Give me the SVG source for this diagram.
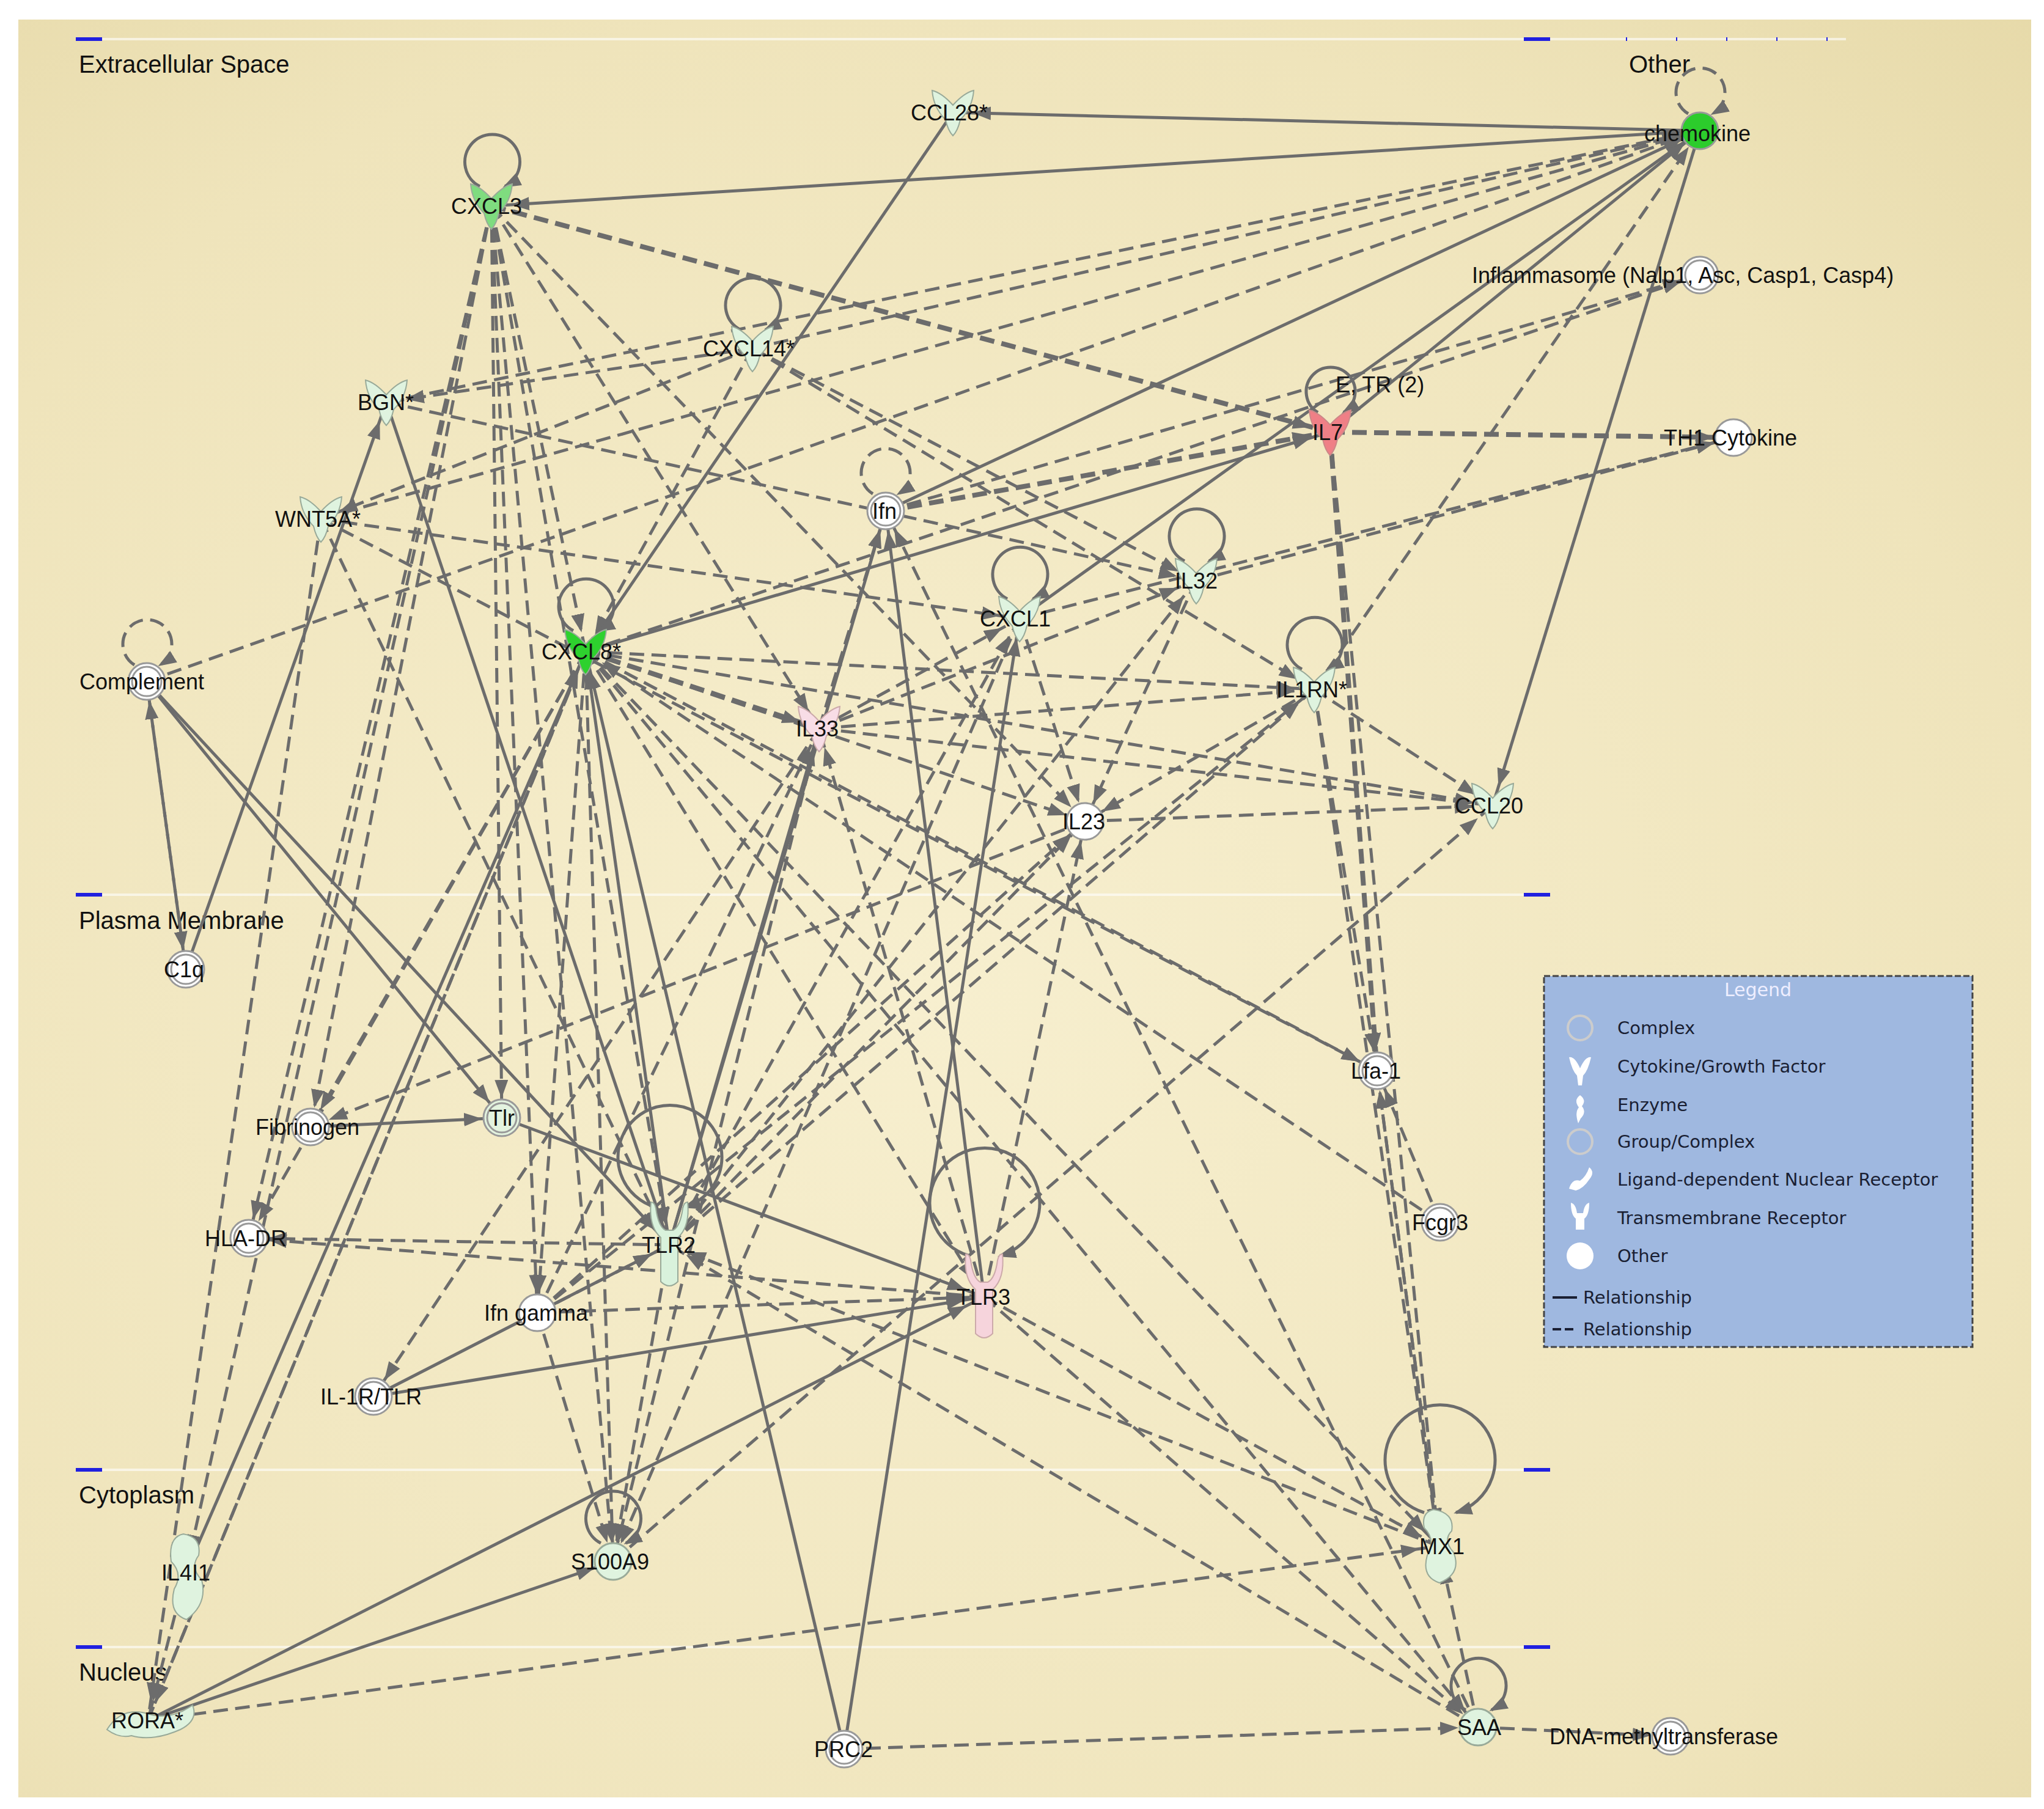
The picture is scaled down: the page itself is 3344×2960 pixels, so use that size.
<svg xmlns="http://www.w3.org/2000/svg" width="3344" height="2960" viewBox="0 0 3344 2960">
<style>
.e{fill:none;stroke:#6c6c6c;stroke-width:5;marker-end:url(#ah)}
.s{fill:none;stroke:#6c6c6c;stroke-width:5;marker-end:url(#ah2)}
.d{stroke-dasharray:24 12}
.t{stroke-width:8}
.l{font-family:"Liberation Sans",Arial,sans-serif;font-size:36px;fill:#111}
.c{font-family:"Liberation Sans",Arial,sans-serif;font-size:40px;fill:#111}
.o{fill:#fff;stroke:#999;stroke-width:3}
.cx{fill:none;stroke:#999;stroke-width:3}
.lg{font-family:"DejaVu Sans",sans-serif;font-size:29px;fill:#1a1f33}
.sep{stroke:#fff;stroke-width:4;opacity:.6}
.bl{stroke:#2020e0;stroke-width:6}
</style>
<defs>
<marker id="ah" markerUnits="userSpaceOnUse" markerWidth="80" markerHeight="30" refX="62" refY="11" orient="auto"><path d="M0,0 L30,11 L0,22z" fill="#6c6c6c"/></marker>
<marker id="ah2" markerUnits="userSpaceOnUse" markerWidth="40" markerHeight="30" refX="26" refY="11" orient="auto"><path d="M0,0 L30,11 L0,22z" fill="#6c6c6c"/></marker>
<radialGradient id="bg" cx="0.45" cy="0.55" r="0.8"><stop offset="0" stop-color="#f7efcf"/><stop offset="0.7" stop-color="#efe4bb"/><stop offset="1" stop-color="#e6d9a8"/></radialGradient>
<path id="cy" d="M-34,-36 Q-18,-32 0,-12 Q18,-32 34,-36 Q32,-8 12,12 Q8,30 0,38 Q-8,30 -12,12 Q-32,-8 -34,-36Z"/>
<path id="tm" d="M-30,-70 Q-24,-70 -22,-60 Q-18,-30 -6,-24 L0,-24 L6,-24 Q18,-30 22,-60 Q24,-70 30,-70 Q34,-30 14,-12 L14,60 Q0,74 -14,60 L-14,-12 Q-34,-30 -30,-70Z"/>
</defs>
<rect width="3344" height="2960" fill="#fff"/>
<rect x="30" y="32" width="3293" height="2909" fill="url(#bg)"/>
<g id="compartments">
<line class="sep" x1="124" y1="64" x2="3020" y2="64"/>
<line class="sep" x1="124" y1="1464" x2="2536" y2="1464"/>
<line class="sep" x1="124" y1="2405" x2="2536" y2="2405"/>
<line class="sep" x1="124" y1="2695" x2="2536" y2="2695"/>
<line class="bl" x1="124" y1="64" x2="167" y2="64"/><line class="bl" x1="2493" y1="64" x2="2536" y2="64"/><line class="bl" x1="2660" y1="64" x2="3020" y2="64" stroke-dasharray="2 80"/>
<line class="bl" x1="124" y1="1464" x2="167" y2="1464"/><line class="bl" x1="2493" y1="1464" x2="2536" y2="1464"/>
<line class="bl" x1="124" y1="2405" x2="167" y2="2405"/><line class="bl" x1="2493" y1="2405" x2="2536" y2="2405"/>
<line class="bl" x1="124" y1="2695" x2="167" y2="2695"/><line class="bl" x1="2493" y1="2695" x2="2536" y2="2695"/>
<text class="c" x="129" y="119">Extracellular Space</text>
<text class="c" x="2665" y="119">Other</text>
<text class="c" x="129" y="1520">Plasma Membrane</text>
<text class="c" x="129" y="2460">Cytoplasm</text>
<text class="c" x="129" y="2750">Nucleus</text>
</g>
<g id="connectors">
<path class="e" d="M2781,214 L1559,184"/>
<path class="e" d="M2781,214 L804,337"/>
<path class="e" d="M2781,214 L2442,1318"/>
<path class="e" d="M1449,836 L2781,214"/>
<path class="e" d="M1668,1012 L2781,214"/>
<path class="e" d="M2176,707 L2781,214"/>
<path class="e" d="M1559,184 L958,1066"/>
<path class="e" d="M958,1066 L2176,707"/>
<path class="e" d="M632,658 L1095,2037"/>
<path class="e" d="M304,1586 L632,658"/>
<path class="e" d="M240,1115 L821,1829"/>
<path class="e" d="M240,1115 L1095,2037"/>
<path class="e" d="M508,1844 L821,1829"/>
<path class="e" d="M821,1829 L1610,2122"/>
<path class="e" d="M611,2285 L1610,2122"/>
<path class="e" d="M611,2285 L1095,2037"/>
<path class="e" d="M242,2815 L1610,2122"/>
<path class="e" d="M242,2815 L1003,2555"/>
<path class="e" d="M1381,2862 L958,1066"/>
<path class="e" d="M1381,2862 L1668,1012"/>
<path class="e" d="M1095,2037 L958,1066"/>
<path class="e" d="M1095,2037 L1449,836"/>
<path class="e" d="M1095,2037 L1340,1192"/>
<path class="e" d="M304,2573 L958,1066"/>
<path class="e" d="M1610,2122 L1449,836"/>
<path class="e d t" d="M804,337 L2176,707"/>
<path class="e d t" d="M2176,707 L2836,716"/>
<path class="e d t" d="M2176,707 L2253,1752"/>
<path class="e d t" d="M1449,836 L2176,707"/>
<path class="e d t" d="M958,1066 L1340,1192"/>
<path class="e d" d="M2176,707 L2354,2530"/>
<path class="e d" d="M804,337 L958,1066"/>
<path class="e d" d="M804,337 L821,1829"/>
<path class="e d" d="M804,337 L1095,2037"/>
<path class="e d" d="M804,337 L879,2148"/>
<path class="e d" d="M804,337 L407,2026"/>
<path class="e d" d="M804,337 L304,2573"/>
<path class="e d" d="M804,337 L1003,2555"/>
<path class="e d" d="M804,337 L508,1844"/>
<path class="e d" d="M804,337 L1340,1192"/>
<path class="e d" d="M804,337 L1775,1344"/>
<path class="e d" d="M1231,570 L632,658"/>
<path class="e d" d="M1231,570 L525,849"/>
<path class="e d" d="M1231,570 L1957,950"/>
<path class="e d" d="M1231,570 L2150,1128"/>
<path class="e d" d="M1231,570 L958,1066"/>
<path class="e d" d="M1231,570 L2781,214"/>
<path class="e d" d="M632,658 L2781,214"/>
<path class="e d" d="M525,849 L2781,214"/>
<path class="e d" d="M240,1115 L2781,214"/>
<path class="e d" d="M240,1115 L304,1586"/>
<path class="e d" d="M304,1586 L240,1115"/>
<path class="e d" d="M525,849 L1668,1012"/>
<path class="e d" d="M525,849 L1095,2037"/>
<path class="e d" d="M525,849 L242,2815"/>
<path class="e d" d="M958,1066 L2150,1128"/>
<path class="e d" d="M958,1066 L2442,1318"/>
<path class="e d" d="M958,1066 L1775,1344"/>
<path class="e d" d="M958,1066 L2354,2530"/>
<path class="e d" d="M958,1066 L2418,2826"/>
<path class="e d" d="M958,1066 L1003,2555"/>
<path class="e d" d="M958,1066 L879,2148"/>
<path class="e d" d="M958,1066 L407,2026"/>
<path class="e d" d="M958,1066 L508,1844"/>
<path class="e d" d="M958,1066 L242,2815"/>
<path class="e d" d="M958,1066 L1610,2122"/>
<path class="e d" d="M958,1066 L2253,1752"/>
<path class="e d" d="M958,1066 L2781,450"/>
<path class="e d" d="M1340,1192 L1449,836"/>
<path class="e d" d="M1340,1192 L1668,1012"/>
<path class="e d" d="M1340,1192 L1957,950"/>
<path class="e d" d="M1340,1192 L2150,1128"/>
<path class="e d" d="M1340,1192 L2442,1318"/>
<path class="e d" d="M2150,1128 L2781,214"/>
<path class="e d" d="M2150,1128 L1775,1344"/>
<path class="e d" d="M2150,1128 L2442,1318"/>
<path class="e d" d="M2150,1128 L2253,1752"/>
<path class="e d" d="M2150,1128 L2354,2530"/>
<path class="e d" d="M1957,950 L2836,716"/>
<path class="e d" d="M1957,950 L1775,1344"/>
<path class="e d" d="M1668,1012 L2836,716"/>
<path class="e d" d="M1668,1012 L1775,1344"/>
<path class="e d" d="M1775,1344 L2442,1318"/>
<path class="e d" d="M1095,2037 L1668,1012"/>
<path class="e d" d="M1095,2037 L1957,950"/>
<path class="e d" d="M1095,2037 L2150,1128"/>
<path class="e d" d="M1095,2037 L1775,1344"/>
<path class="e d" d="M1095,2037 L407,2026"/>
<path class="e d" d="M1095,2037 L1003,2555"/>
<path class="e d" d="M1610,2122 L1340,1192"/>
<path class="e d" d="M1610,2122 L1775,1344"/>
<path class="e d" d="M1610,2122 L407,2026"/>
<path class="e d" d="M1610,2122 L2354,2530"/>
<path class="e d" d="M1610,2122 L2418,2826"/>
<path class="e d" d="M879,2148 L1610,2122"/>
<path class="e d" d="M879,2148 L1095,2037"/>
<path class="e d" d="M879,2148 L1775,1344"/>
<path class="e d" d="M879,2148 L1340,1192"/>
<path class="e d" d="M879,2148 L1003,2555"/>
<path class="e d" d="M879,2148 L2150,1128"/>
<path class="e d" d="M2354,2530 L1095,2037"/>
<path class="e d" d="M2354,2530 L2253,1752"/>
<path class="e d" d="M2418,2826 L2354,2530"/>
<path class="e d" d="M2418,2826 L1095,2037"/>
<path class="e d" d="M2418,2826 L1449,836"/>
<path class="e d" d="M2356,2000 L958,1066"/>
<path class="e d" d="M2356,2000 L2253,1752"/>
<path class="e d" d="M1381,2862 L2418,2826"/>
<path class="e d" d="M2418,2826 L2733,2841"/>
<path class="e d" d="M242,2815 L2354,2530"/>
<path class="e d" d="M242,2815 L958,1066"/>
<path class="e d" d="M304,2573 L242,2815"/>
<path class="e d" d="M2253,1752 L2354,2530"/>
<path class="e d" d="M1449,836 L2781,450"/>
<path class="e d" d="M632,658 L1957,950"/>
<path class="e d" d="M1003,2555 L2442,1318"/>
<path class="e d" d="M1340,1192 L1003,2555"/>
<path class="e d" d="M1340,1192 L611,2285"/>
<path class="e d" d="M1775,1344 L508,1844"/>
<path class="e d" d="M1668,1012 L1003,2555"/>
<path class="e d" d="M525,849 L2253,1752"/>
<path class="s" d="M785,305 A45,45 0 1 1 826,305"/>
<path class="s" d="M1212,540 A45,45 0 1 1 1252,540"/>
<path class="s" d="M938,1032 A45,45 0 1 1 980,1032"/>
<path class="s" d="M1648,980 A45,45 0 1 1 1690,980"/>
<path class="s" d="M1938,918 A45,45 0 1 1 1978,918"/>
<path class="s" d="M2130,1095 A45,45 0 1 1 2172,1095"/>
<path class="s" d="M2156,675 A40,40 0 1 1 2198,675"/>
<path class="s" d="M983,2525 A45,45 0 1 1 1024,2525"/>
<path class="s" d="M2398,2798 A45,45 0 1 1 2440,2798"/>
<path class="s" d="M1072,1975 A85,85 0 1 1 1120,1975"/>
<path class="s" d="M1586,2055 A90,90 0 1 1 1636,2055"/>
<path class="s" d="M2330,2475 A90,90 0 1 1 2382,2475"/>
<path class="s d" d="M2762,186 A40,40 0 1 1 2802,186"/>
<path class="s d" d="M1428,808 A40,40 0 1 1 1470,808"/>
<path class="s d" d="M220,1088 A40,40 0 1 1 262,1088"/>
</g>
<g id="n-chemokine"><circle cx="2781" cy="214" r="30" fill="#2ccc2c" stroke="#999" stroke-width="3"/><text class="l" x="2690" y="231">chemokine</text></g>
<g id="n-CCL28"><use href="#cy" x="1559" y="184" fill="#dff3df" stroke="#9a9" stroke-width="2"/><text class="l" x="1490" y="197">CCL28*</text></g>
<g id="n-CXCL3"><use href="#cy" x="804" y="337" fill="#7fdc7f" stroke="#9a9" stroke-width="2"/><text class="l" x="738" y="350">CXCL3</text></g>
<g id="n-Inflammasome"><circle class="o" cx="2781" cy="450" r="30"/><circle class="cx" cx="2781" cy="450" r="24"/><text class="l" x="2408" y="463">Inflammasome (Nalp1, Asc, Casp1, Casp4)</text></g>
<g id="n-CXCL14"><use href="#cy" x="1231" y="570" fill="#dff3df" stroke="#9a9" stroke-width="2"/><text class="l" x="1150" y="583">CXCL14*</text></g>
<g id="n-BGN"><use href="#cy" x="632" y="658" fill="#dff3df" stroke="#9a9" stroke-width="2"/><text class="l" x="585" y="671">BGN*</text></g>
<g id="n-IL7"><use href="#cy" x="2176" y="707" fill="#ef7f86" stroke="#c88" stroke-width="2"/><text class="l" x="2147" y="720">IL7</text><text class="l" x="2185" y="642" font-size="22">E, TR (2)</text></g>
<g id="n-TH1"><circle class="o" cx="2836" cy="716" r="30"/><text class="l" x="2722" y="729">TH1 Cytokine</text></g>
<g id="n-WNT5A"><use href="#cy" x="525" y="849" fill="#dff3df" stroke="#9a9" stroke-width="2"/><text class="l" x="450" y="862">WNT5A*</text></g>
<g id="n-Ifn"><circle class="o" cx="1449" cy="836" r="30"/><circle class="cx" cx="1449" cy="836" r="24"/><text class="l" x="1427" y="849">Ifn</text></g>
<g id="n-IL32"><use href="#cy" x="1957" y="950" fill="#dff3df" stroke="#9a9" stroke-width="2"/><text class="l" x="1922" y="963">IL32</text></g>
<g id="n-CXCL1"><use href="#cy" x="1668" y="1012" fill="#dff3df" stroke="#9a9" stroke-width="2"/><text class="l" x="1603" y="1025">CXCL1</text></g>
<g id="n-CXCL8"><use href="#cy" x="958" y="1066" fill="#2ed12e" stroke="#9a9" stroke-width="2"/><text class="l" x="886" y="1079">CXCL8*</text></g>
<g id="n-Complement"><circle class="o" cx="240" cy="1115" r="30"/><circle class="cx" cx="240" cy="1115" r="24"/><text class="l" x="130" y="1128">Complement</text></g>
<g id="n-IL1RN"><use href="#cy" x="2150" y="1128" fill="#dff3df" stroke="#9a9" stroke-width="2"/><text class="l" x="2088" y="1141">IL1RN*</text></g>
<g id="n-IL33"><use href="#cy" x="1340" y="1192" fill="#f8dde6" stroke="#caa" stroke-width="2"/><text class="l" x="1302" y="1205">IL33</text></g>
<g id="n-CCL20"><use href="#cy" x="2442" y="1318" fill="#dff3df" stroke="#9a9" stroke-width="2"/><text class="l" x="2380" y="1331">CCL20</text></g>
<g id="n-IL23"><circle class="o" cx="1775" cy="1344" r="30"/><text class="l" x="1738" y="1357">IL23</text></g>
<g id="n-C1q"><circle class="o" cx="304" cy="1586" r="30"/><circle class="cx" cx="304" cy="1586" r="24"/><text class="l" x="268" y="1599">C1q</text></g>
<g id="n-Lfa1"><circle class="o" cx="2253" cy="1752" r="30"/><circle class="cx" cx="2253" cy="1752" r="24"/><text class="l" x="2210" y="1765">Lfa-1</text></g>
<g id="n-Fibrinogen"><circle class="o" cx="508" cy="1844" r="30"/><circle class="cx" cx="508" cy="1844" r="24"/><text class="l" x="418" y="1857">Fibrinogen</text></g>
<g id="n-Tlr"><circle cx="821" cy="1829" r="30" fill="#e3f3df" stroke="#999" stroke-width="3"/><circle class="cx" cx="821" cy="1829" r="24"/><text class="l" x="800" y="1842">Tlr</text></g>
<g id="n-Fcgr3"><circle class="o" cx="2356" cy="2000" r="30"/><circle class="cx" cx="2356" cy="2000" r="24"/><text class="l" x="2310" y="2013">Fcgr3</text></g>
<g id="n-HLADR"><circle class="o" cx="407" cy="2026" r="30"/><circle class="cx" cx="407" cy="2026" r="24"/><text class="l" x="335" y="2039">HLA-DR</text></g>
<g id="n-TLR2"><use href="#tm" x="1095" y="2037" fill="#d9f2dc" stroke="#9a9" stroke-width="2"/><text class="l" x="1050" y="2050">TLR2</text></g>
<g id="n-Ifng"><circle class="o" cx="879" cy="2148" r="30"/><text class="l" x="792" y="2161">Ifn gamma</text></g>
<g id="n-TLR3"><use href="#tm" x="1610" y="2122" fill="#f6d4dc" stroke="#caa" stroke-width="2"/><text class="l" x="1565" y="2135">TLR3</text></g>
<g id="n-IL1R"><circle class="o" cx="611" cy="2285" r="30"/><circle class="cx" cx="611" cy="2285" r="24"/><text class="l" x="524" y="2298">IL-1R/TLR</text></g>
<g id="n-S100A9"><circle cx="1003" cy="2555" r="30" fill="#dff3df" stroke="#9a9" stroke-width="3"/><text class="l" x="934" y="2568">S100A9</text></g>
<g id="n-MX1"><path d="M2345,2470 Q2380,2475 2375,2505 Q2360,2520 2378,2540 Q2392,2575 2355,2590 Q2325,2580 2335,2545 Q2350,2520 2330,2500 Q2325,2475 2345,2470Z" fill="#dff3df" stroke="#9a9" stroke-width="2"/><text class="l" x="2322" y="2543">MX1</text></g>
<g id="n-IL4I1"><path d="M300,2510 Q330,2515 325,2545 Q310,2565 330,2585 Q340,2625 305,2650 Q275,2640 285,2600 Q300,2575 280,2555 Q275,2515 300,2510Z" fill="#dff3df" stroke="#9a9" stroke-width="2"/><text class="l" x="264" y="2586">IL4I1</text></g>
<g id="n-RORA"><path d="M175,2830 Q200,2790 245,2805 Q280,2815 315,2790 Q325,2815 295,2830 Q250,2850 215,2840 Q195,2845 175,2830Z" fill="#dff3df" stroke="#9a9" stroke-width="2"/><text class="l" x="182" y="2828">RORA*</text></g>
<g id="n-PRC2"><circle class="o" cx="1381" cy="2862" r="30"/><circle class="cx" cx="1381" cy="2862" r="24"/><text class="l" x="1332" y="2875">PRC2</text></g>
<g id="n-SAA"><circle cx="2418" cy="2826" r="30" fill="#dff3df" stroke="#9a9" stroke-width="3"/><text class="l" x="2384" y="2839">SAA</text></g>
<g id="n-DNA"><circle class="o" cx="2733" cy="2841" r="30"/><circle class="cx" cx="2733" cy="2841" r="24"/><text class="l" x="2535" y="2854">DNA-methyltransferase</text></g>
<g id="legend">
<rect x="2526" y="1597" width="701" height="607" fill="#9fb8e0" stroke="#444" stroke-width="3" stroke-dasharray="10 4"/>
<text x="2876" y="1630" text-anchor="middle" font-family="DejaVu Sans,sans-serif" font-size="30" fill="#eef">Legend</text>
<circle cx="2585" cy="1682" r="20" fill="none" stroke="#ccc" stroke-width="4"/><text class="lg" x="2646" y="1692">Complex</text>
<path d="M2567,1730 Q2576,1728 2585,1748 Q2594,1728 2603,1730 Q2598,1752 2590,1760 L2588,1776 L2582,1776 L2580,1760 Q2572,1752 2567,1730Z" fill="#fff"/><text class="lg" x="2646" y="1755">Cytokine/Growth Factor</text>
<path d="M2585,1792 Q2596,1800 2588,1810 Q2596,1820 2586,1830 L2582,1838 Q2576,1820 2583,1812 Q2574,1800 2585,1792Z" fill="#fff"/><text class="lg" x="2646" y="1818">Enzyme</text>
<circle cx="2585" cy="1868" r="20" fill="none" stroke="#ccc" stroke-width="4"/><text class="lg" x="2646" y="1878">Group/Complex</text>
<path d="M2567,1945 Q2572,1928 2585,1932 Q2595,1925 2600,1910 Q2610,1918 2600,1930 Q2590,1945 2578,1948Z" fill="#fff"/><text class="lg" x="2646" y="1940">Ligand-dependent Nuclear Receptor</text>
<path d="M2570,1968 Q2578,1970 2580,1985 L2590,1985 Q2592,1970 2600,1968 Q2600,1988 2592,1994 L2592,2012 L2578,2012 L2578,1994 Q2570,1988 2570,1968Z" fill="#fff"/><text class="lg" x="2646" y="2003">Transmembrane Receptor</text>
<circle cx="2585" cy="2055" r="22" fill="#fff"/><text class="lg" x="2646" y="2065">Other</text>
<line x1="2540" y1="2123" x2="2580" y2="2123" stroke="#1a1f33" stroke-width="4"/><text class="lg" x="2590" y="2133">Relationship</text>
<line x1="2540" y1="2175" x2="2580" y2="2175" stroke="#1a1f33" stroke-width="4" stroke-dasharray="14 6"/><text class="lg" x="2590" y="2185">Relationship</text>
</g>
</svg>
